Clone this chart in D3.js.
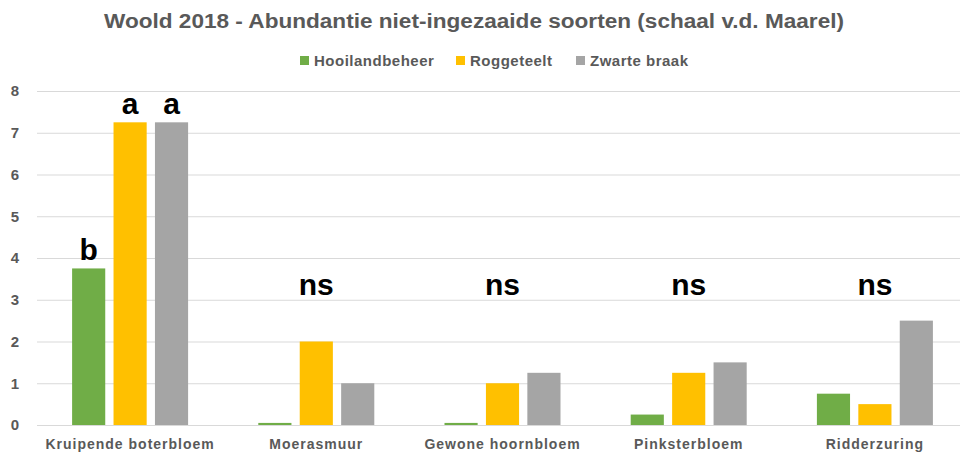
<!DOCTYPE html>
<meta charset="utf-8">
<script src="https://d3js.org/d3.v7.min.js"></script>
<style>
body { margin: 0; background: #fff; }
text { font-family: "Liberation Sans", Arial, sans-serif; }
.title { font-size: 20px; font-weight: bold; fill: #595959; }
.legend { font-size: 15px; font-weight: bold; fill: #595959; letter-spacing: 0.5px; }
.y .tick text { font-size: 15px; font-weight: bold; fill: #595959; }
.x .tick text { font-size: 14px; font-weight: bold; fill: #595959; letter-spacing: 1px; }
.sig { font-size: 30px; font-weight: bold; fill: #000; }
</style>
<svg id="chart" width="964" height="454"></svg>
<script>
// data
var categories = ["Kruipende boterbloem", "Moerasmuur", "Gewone hoornbloem", "Pinksterbloem", "Ridderzuring"];
var series = ["Hooilandbeheer", "Roggeteelt", "Zwarte braak"];
var hooiland = [3.75, 0.05, 0.05, 0.25, 0.75];
var rogge = [7.25, 2, 1, 1.25, 0.5];
var zwart = [7.25, 1, 1.25, 1.5, 2.5];
var colors = ["#70AD47", "#FFC000", "#A5A5A5"];
var yTicks = [0, 1, 2, 3, 4, 5, 6, 7, 8];
// significance letters: [category, series index or -1 for whole group, text]
var letters = [
  ["Kruipende boterbloem", 0, "b"],
  ["Kruipende boterbloem", 1, "a"],
  ["Kruipende boterbloem", 2, "a"],
  ["Moerasmuur", -1, "ns"],
  ["Gewone hoornbloem", -1, "ns"],
  ["Pinksterbloem", -1, "ns"],
  ["Ridderzuring", -1, "ns"]
];

var values = [hooiland, rogge, zwart];
var rows = categories.map(function(c, i) {
  return { cat: c, vals: series.map(function(s, j) { return { s: s, j: j, v: values[j][i] }; }) };
});

var svg = d3.select("#chart");
var mLeft = 37, mRight = 968, gridEnd = 960, mTop = 91, mBottom = 425;

var x = d3.scaleBand().domain(categories).range([mLeft, mRight]);
var x1 = d3.scaleBand().domain(series).range([x.bandwidth() / 2 - 58, x.bandwidth() / 2 + 58]).paddingInner(0.2);
var y = d3.scaleLinear().domain([0, 8]).range([mBottom, mTop]);

// title
svg.append("text")
  .attr("class", "title")
  .attr("x", 474).attr("y", 28)
  .attr("text-anchor", "middle")
  .attr("textLength", 740)
  .attr("lengthAdjust", "spacingAndGlyphs")
  .text("Woold 2018 - Abundantie niet-ingezaaide soorten (schaal v.d. Maarel)");

// legend
var legX = [300, 456, 576];
var leg = svg.selectAll(".leg").data(series).enter().append("g")
  .attr("transform", function(d, i) { return "translate(" + legX[i] + ",56)"; });
leg.append("rect").attr("width", 9).attr("height", 9).attr("fill", function(d, i) { return colors[i]; });
leg.append("text").attr("class", "legend").attr("x", 14).attr("y", 10).text(function(d) { return d; });

// grid + y axis
var yAxis = svg.append("g")
  .attr("class", "y")
  .attr("transform", "translate(" + mLeft + ",0)")
  .call(d3.axisLeft(y).tickValues(yTicks).tickSize(-(gridEnd - mLeft)).tickPadding(22).tickFormat(d3.format("d")));
yAxis.select(".domain").remove();
yAxis.selectAll(".tick line").attr("stroke", "#D9D9D9").attr("stroke-width", 1);
yAxis.selectAll(".tick text").attr("text-anchor", "middle");

// x labels
var xAxis = svg.append("g")
  .attr("class", "x")
  .attr("transform", "translate(0," + mBottom + ")")
  .call(d3.axisBottom(x).tickSize(0).tickPadding(14));
xAxis.select(".domain").remove();

// bars
var groups = svg.append("g").selectAll("g").data(rows).enter().append("g")
  .attr("transform", function(d) { return "translate(" + x(d.cat) + ",0)"; });
groups.selectAll("rect").data(function(d) { return d.vals; }).enter().append("rect")
  .attr("x", function(d) { return x1(d.s); })
  .attr("y", function(d) { return y(d.v); })
  .attr("width", x1.bandwidth())
  .attr("height", function(d) { return y(0) - y(d.v); })
  .attr("fill", function(d) { return colors[d.j]; });

// significance letters
svg.append("g").selectAll("text").data(letters).enter().append("text")
  .attr("class", "sig")
  .attr("text-anchor", "middle")
  .attr("x", function(d) {
    if (d[1] < 0) return x(d[0]) + x.bandwidth() / 2;
    return x(d[0]) + x1(series[d[1]]) + x1.bandwidth() / 2;
  })
  .attr("y", function(d) {
    if (d[1] < 0) return y(3) - 5;
    var i = categories.indexOf(d[0]);
    return y(values[d[1]][i]) - 8;
  })
  .text(function(d) { return d[2]; });
</script>
